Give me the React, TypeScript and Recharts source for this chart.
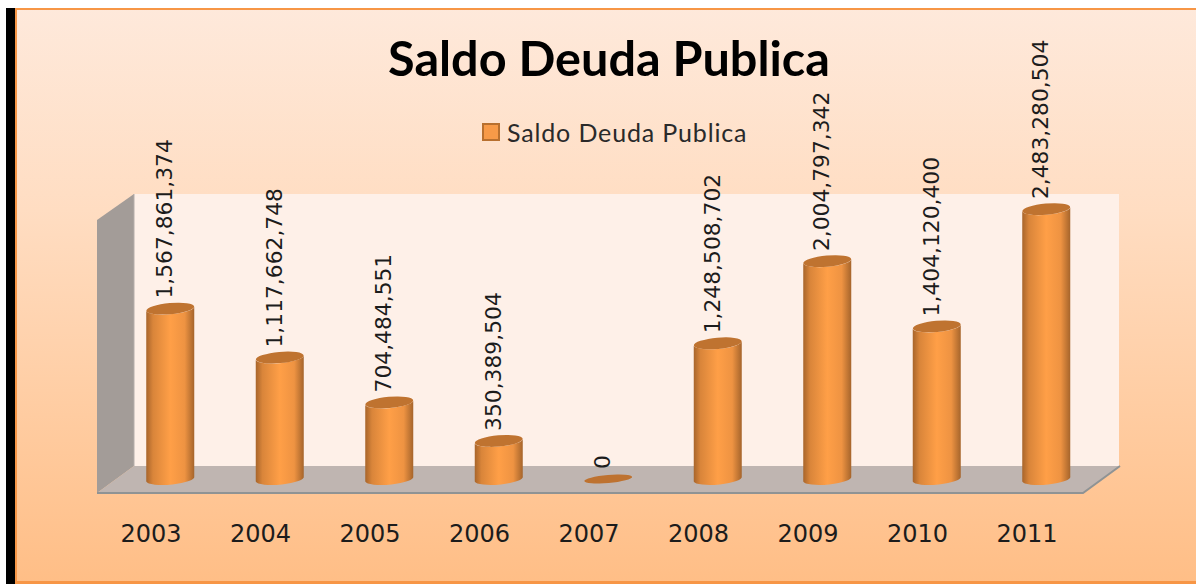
import { Bar, BarChart, Customized, LabelList, Legend, XAxis, YAxis } from "recharts";

const years = ["2003", "2004", "2005", "2006", "2007", "2008", "2009", "2010", "2011"];
const saldo = [
  1567861374, 1117662748, 704484551, 350389504, 0, 1248508702, 2004797342, 1404120400, 2483280504,
];
const seriesName = "Saldo Deuda Publica";

const rows = years.map((year, i) => ({ year, saldo: saldo[i] }));

const RX = 24;
const RY = 5.6;
const TILT = 2.5; // the cylinders lean a little, right side sits higher

function Cylinder({ x, y, width, height }: any) {
  const left = x;
  const right = x + width;
  const cx = x + width / 2;
  const base = y + height;
  if (height < 1) {
    return (
      <ellipse
        cx={cx}
        cy={base}
        rx={RX}
        ry={4}
        fill="#BE7230"
        transform={`rotate(-5 ${cx} ${base})`}
      />
    );
  }
  const body =
    `M${left},${y + TILT} L${left},${base + TILT} ` +
    `A${RX},${RY} -5 0 0 ${right},${base - TILT} L${right},${y - TILT} ` +
    `A${RX},${RY} -5 0 1 ${left},${y + TILT} Z`;
  return (
    <g>
      <path d={body} fill="url(#cyl)" />
      <ellipse
        cx={cx}
        cy={y}
        rx={RX}
        ry={RY}
        fill="#BF7330"
        transform={`rotate(-5 ${cx} ${y})`}
      />
    </g>
  );
}

function ValueLabel({ x, y, width, value }: any) {
  const px = x + width / 2 + 2;
  const py = y - 10;
  return (
    <text
      x={px}
      y={py}
      transform={`rotate(-90 ${px} ${py})`}
      fill="#1c1c1c"
      fontFamily="DejaVu Sans"
      fontSize={21.8}
    >
      {Number(value).toLocaleString("en-US")}
    </text>
  );
}

// the 3D box behind the bars
function Room() {
  return (
    <g>
      <defs>
        <linearGradient id="cyl" x1="0" y1="0" x2="1" y2="0">
          <stop offset="0%" stopColor="#A8652B" />
          <stop offset="14%" stopColor="#D9853A" />
          <stop offset="50%" stopColor="#FF9F47" />
          <stop offset="80%" stopColor="#EE9342" />
          <stop offset="100%" stopColor="#A5642B" />
        </linearGradient>
      </defs>
      <rect x={134} y={194} width={985} height={272} fill="#FEF0E8" />
      <polygon points="97,220 134,194 134,466 97,493" fill="#A39C98" />
      <polygon points="97,493 134,466 1120,466 1083,493" fill="#BFB5B1" />
      <polyline points="97,493 1083,493 1120,466" fill="none" stroke="#8F9394" strokeWidth={2} />
      <line x1={134} y1={194} x2={134} y2={466} stroke="#B5AEAA" />
      <text
        x={609}
        y={76}
        textAnchor="middle"
        fontFamily="Lato"
        fontWeight={700}
        fontSize={48.6}
        fill="#000"
      >
        {seriesName}
      </text>
    </g>
  );
}

function LegendBox() {
  return (
    <div style={{ display: "flex", alignItems: "center", gap: 7, height: 30 }}>
      <span
        style={{
          width: 18,
          height: 18,
          background: "#F79A48",
          border: "2px solid #B8702F",
          boxSizing: "border-box",
        }}
      />
      <span
        style={{
          fontFamily: "Lato",
          fontSize: 25,
          lineHeight: "30px",
          letterSpacing: 0.85,
          color: "#2a2a2a",
          whiteSpace: "nowrap",
        }}
      >
        {seriesName}
      </span>
    </div>
  );
}

export default function App() {
  return (
    <div style={{ position: "absolute", left: 0, top: 0, width: 1196, height: 584, background: "#fff", overflow: "hidden" }}>
      <div
        style={{
          position: "absolute",
          left: 6,
          top: 8,
          width: 1190,
          height: 576,
          boxSizing: "border-box",
          borderLeft: "9px solid #000",
          background: "linear-gradient(180deg, #FEE9DB 0%, #FFDDC2 35%, #FFBE86 100%)",
        }}
      >
        <div
          style={{
            position: "absolute",
            inset: 0,
            boxSizing: "border-box",
            borderTop: "2px solid #F79646",
            borderLeft: "2px solid #F79646",
            borderBottom: "3px solid #F79646",
          }}
        />
      </div>
      <BarChart
        width={1196}
        height={584}
        data={rows}
        margin={{ top: 177.3, right: 95.25, bottom: 45, left: 115.25 }}
        style={{ position: "absolute", left: 0, top: 0 }}
      >
        <Customized component={<Room />} />
        <XAxis
          dataKey="year"
          height={60}
          axisLine={false}
          tickLine={false}
          tickMargin={40}
          dx={-19}
          tick={{ fill: "#1c1c1c", fontSize: 24, fontFamily: "DejaVu Sans" }}
        />
        <YAxis hide domain={[0, 2500000000]} />
        <Legend
          verticalAlign="top"
          content={<LegendBox />}
          wrapperStyle={{ position: "absolute", left: 482, top: 117, width: "auto" }}
        />
        <Bar
          dataKey="saldo"
          name={seriesName}
          barSize={48}
          shape={<Cylinder />}
          isAnimationActive={false}
        >
          <LabelList dataKey="saldo" content={<ValueLabel />} />
        </Bar>
      </BarChart>
    </div>
  );
}
